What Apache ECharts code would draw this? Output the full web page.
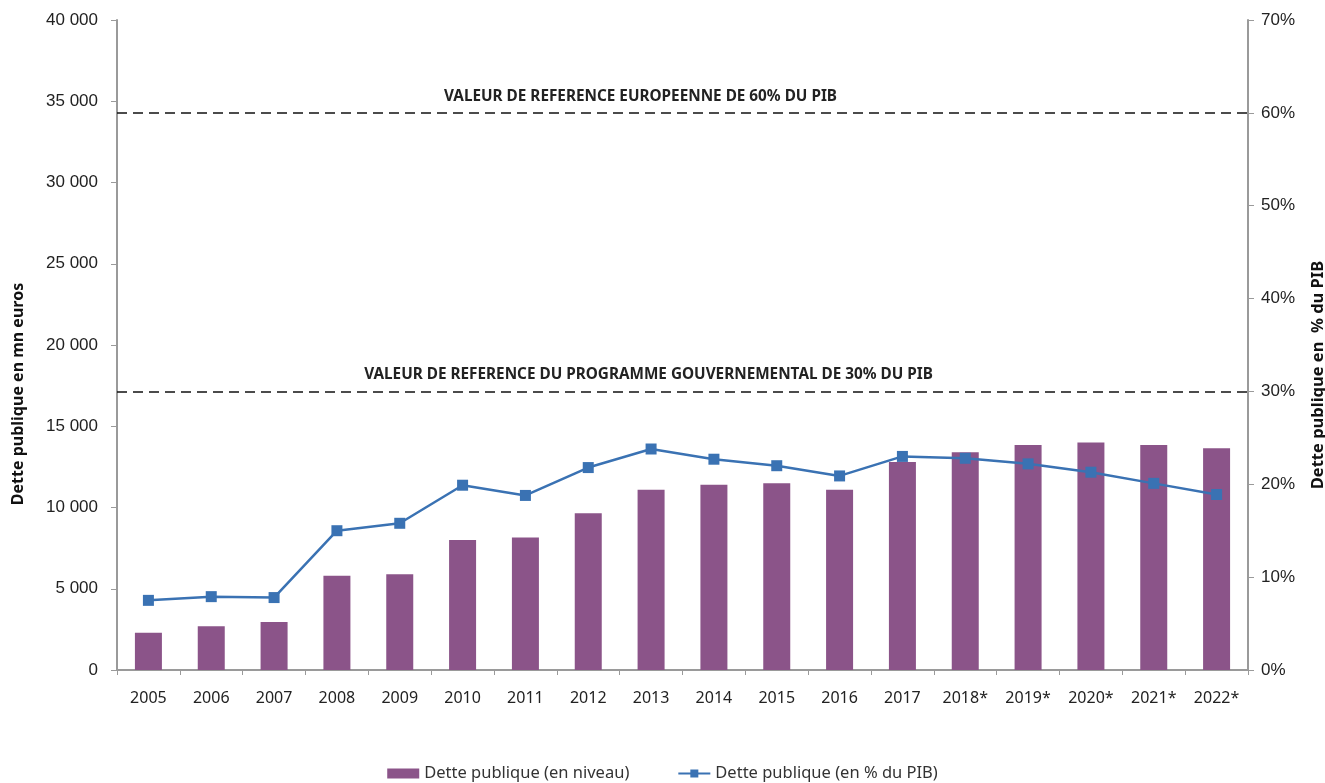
<!DOCTYPE html>
<html lang="fr">
<head>
    <meta charset="UTF-8">
    <title>Dette publique</title>
    <script src="https://cdn.jsdelivr.net/npm/echarts@6/dist/echarts.min.js"></script>
    <style>
        html, body { margin: 0; padding: 0; background: #fff; }
        #chart { width: 1325px; height: 783px; }
    </style>
</head>
<body>
<div id="chart"></div>
<script>
    // annees
    var years = ['2005', '2006', '2007', '2008', '2009', '2010', '2011', '2012', '2013',
        '2014', '2015', '2016', '2017', '2018*', '2019*', '2020*', '2021*', '2022*'];
    // dette en mn euros
    var detteNiveau = [2300, 2700, 2950, 5800, 5900, 8000, 8150, 9650, 11100,
        11400, 11500, 11100, 12800, 13400, 13850, 14000, 13850, 13650];
    // dette en % du PIB
    var dettePib = [7.5, 7.9, 7.8, 15.0, 15.8, 19.9, 18.8, 21.8, 23.8,
        22.7, 22.0, 20.9, 23.0, 22.8, 22.2, 21.3, 20.1, 18.9];
    // valeurs de reference (%)
    var refValues = [60, 30];
    var refLabels = ['VALEUR DE REFERENCE EUROPEENNE DE 60% DU PIB',
        'VALEUR DE REFERENCE DU PROGRAMME GOUVERNEMENTAL DE 30% DU PIB'];
    var refShift = [84, 68]; // decalage a gauche des libelles

    var axisGrey = '#9a9a9a';
    var chart = echarts.init(document.getElementById('chart'));

    function fmtMilliers(v) {
        return String(v).replace(/\B(?=(\d{3})+(?!\d))/g, ' ');
    }

    var option = {
        animation: false,
        textStyle: { fontFamily: 'Noto Sans' },
        grid: { left: 117, right: 77, top: 20, bottom: 113, containLabel: false, outerBoundsMode: 'none' },
        legend: {
            top: 760,
            left: 'center',
            itemGap: 48,
            itemWidth: 32,
            itemHeight: 10,
            textStyle: { fontSize: 16.5, color: '#333', fontFamily: 'Noto Sans' },
            data: [
                { name: 'Dette publique (en niveau)', icon: 'rect' },
                { name: 'Dette publique (en % du PIB)' }
            ]
        },
        xAxis: {
            type: 'category',
            data: years,
            axisLine: { lineStyle: { color: axisGrey, width: 2 } },
            axisTick: { show: true, length: 5, lineStyle: { color: axisGrey } },
            axisLabel: { color: '#222', fontSize: 16, margin: 20 }
        },
        yAxis: [
            {
                type: 'value',
                min: 0,
                max: 40000,
                interval: 5000,
                name: 'Dette publique en mn euros',
                nameLocation: 'middle',
                nameGap: 91,
                nameTextStyle: { fontWeight: 'bold', fontSize: 16, color: '#111', padding: [0, 98, 0, 0] },
                axisLine: { show: true, lineStyle: { color: axisGrey, width: 2 } },
                axisTick: { show: true, length: 6, lineStyle: { color: axisGrey } },
                splitLine: { show: false },
                axisLabel: {
                    color: '#222', fontSize: 17, margin: 19, fontFamily: 'Liberation Sans',
                    formatter: fmtMilliers
                }
            },
            {
                type: 'value',
                min: 0,
                max: 70,
                interval: 10,
                name: 'Dette publique en  % du PIB',
                nameLocation: 'middle',
                nameGap: 62,
                nameRotate: 90,
                nameTextStyle: { fontWeight: 'bold', fontSize: 16.5, color: '#111', padding: [0, 60, 0, 0] },
                axisLine: { show: true, lineStyle: { color: axisGrey, width: 2 } },
                axisTick: { show: true, length: 6, lineStyle: { color: axisGrey } },
                splitLine: { show: false },
                axisLabel: {
                    color: '#222', fontSize: 17, margin: 13, fontFamily: 'Liberation Sans',
                    formatter: '{value}%'
                }
            }
        ],
        series: [
            {
                name: 'Dette publique (en niveau)',
                type: 'bar',
                data: detteNiveau,
                barWidth: 27,
                itemStyle: { color: '#8b5489' }
            },
            {
                name: 'Dette publique (en % du PIB)',
                type: 'line',
                yAxisIndex: 1,
                data: dettePib,
                symbol: 'rect',
                symbolSize: 11,
                lineStyle: { color: '#3a72b3', width: 2.5 },
                itemStyle: { color: '#3a72b3' },
                markLine: {
                    silent: true,
                    symbol: 'none',
                    lineStyle: { color: '#111', type: [10, 6], width: 1.5 },
                    label: {
                        position: 'middle',
                        fontWeight: 'bold',
                        fontSize: 15.3,
                        color: '#222',
                        distance: 9,
                        formatter: function (p) { return p.name; }
                    },
                    data: refValues.map(function (v, i) {
                        return {
                            yAxis: v,
                            name: refLabels[i],
                            label: { padding: [0, refShift[i], 0, 0] }
                        };
                    })
                }
            }
        ]
    };
    chart.setOption(option);
</script>
</body>
</html>
